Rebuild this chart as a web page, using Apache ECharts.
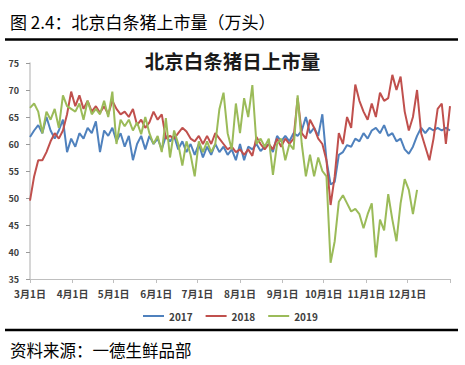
<!DOCTYPE html>
<html><head><meta charset="utf-8">
<script src="https://cdn.jsdelivr.net/npm/echarts@6/dist/echarts.min.js"></script>
<style>html,body{margin:0;padding:0;background:#fff}#c{width:465px;height:365px}</style>
</head><body><div id="c"></div>
<script>
// x positions are day offsets from 3月1日; each series is sampled every 3 days
const stepDays = 3;
const monthLabels = ['3月1日','4月1日','5月1日','6月1日','7月1日','8月1日','9月1日','10月1日','11月1日','12月1日'];
const monthStartDays = [0,31,61,92,122,153,184,214,245,275];
const endDay = 306;
const seriesNames = ['2017','2018','2019'];

const values2017 = [61.3,62.5,63.5,62,65,62.5,61,62.5,64.5,58.5,
  61,59.5,62,61,63,62,64.2,58.5,62.5,61.5,
  63,60.5,62,59.5,61.5,57,60,61.5,59,61.5,
  60,61,59,61.5,60.5,61.5,59,60.5,58.5,60,
  58,60,57.5,59.5,58,60,58.5,59.5,58,59,
  57,60,57,59.5,59,60,58.7,59.5,60,58.5,
  61.5,60.5,61.5,60.5,62,61.5,62.5,65,62,63,
  61.5,65.5,57,52.5,53,58,58.5,59.8,59.5,61,
  60.5,62,61,62.5,63,62,63.5,61.5,62,60.5,
  61,59,58.2,59.5,61.5,63,62,63,62.5,63,
  62.5,63,62.5];

const values2018 = [49.5,54,57,57,58.5,60.5,62,61,62.5,65.5,
  69.7,67,69,66.5,68,66,67,65.8,67,65.5,
  68,66.5,65.5,66,65,66.5,63.5,64.5,63,64,
  66,64.5,65.5,61,61.5,61,62,63,62.3,61,
  60.5,61.5,60,61.5,60,62,61,60,59,59.5,
  58.5,59,58,59,57.8,61.3,60,59,60,59,
  61,59.5,61,60,61,68.5,62,61,64.5,63,
  61,60,57,48.7,54,62,60,65,63,71,
  68,66,64.5,67.5,65,69.5,68,68.5,72.8,70,
  72.5,66,62.5,65,70,62,59.5,57,61,66.5,
  67.5,60,67];

const values2019 = [66.7,67.5,66,62,66,64.5,66.5,63,69,67,
  66.5,66,67.5,64.5,68,65.5,66.5,65.5,68,65,
  69.7,60,64.5,63.3,64.5,62.5,64,61.8,65,62,
  60,61.5,58.5,64.8,57.5,62.5,60,56,60.5,58,
  54,60.5,58.5,60.5,58.5,60,66.5,69.5,62,59,
  67.5,62,68.5,65,70.9,60,61,59.5,61,54.3,
  60,61,57,60,59,69,60,54,58,54,
  57.5,55,54,38,42,49.3,50.5,49,47.5,48,
  47,44.4,47,49,39,46,44,50.7,46,42,
  49,53.5,51.5,47,51.5];

const colors = ['#4F81BD','#C0504D','#9BBB59'];
const font = "'Noto Sans CJK SC', 'Noto Sans', sans-serif";

function toPoints(vals){ return vals.map((v,i)=>[i*stepDays, v]); }
const allValues = [values2017, values2018, values2019];

const chart = echarts.init(document.getElementById('c'), null, {renderer:'svg'});
chart.setOption({
  backgroundColor:'#fff',
  animation:false,
  textStyle:{fontFamily:font},
  title:[
    {text:'图 2.4：北京白条猪上市量（万头）', left:5, top:8,
     textStyle:{fontFamily:font, fontSize:17, fontWeight:'normal', color:'#000'}},
    {text:'北京白条猪日上市量', left:'center', top:46,
     textStyle:{fontFamily:font, fontSize:19.5, fontWeight:'bold', color:'#1a1a1a'}},
    {text:'资料来源：一德生鲜品部', left:5, top:337,
     textStyle:{fontFamily:font, fontSize:16.5, fontWeight:'normal', color:'#000'}}
  ],
  graphic:[
    {type:'line', shape:{x1:5,y1:39.5,x2:458,y2:39.5}, style:{stroke:'#000', lineWidth:2.5}},
    {type:'line', shape:{x1:5,y1:330,x2:458,y2:330}, style:{stroke:'#000', lineWidth:2.5}}
  ],
  legend:{
    data:seriesNames, left:138, top:306, icon:'rect', itemWidth:21, itemHeight:2,
    itemGap:13, textStyle:{fontFamily:font, fontSize:10, color:'#404040', fontWeight:'bold'}
  },
  grid:{left:30, right:15, top:63, bottom:86},
  xAxis:{
    type:'value', min:0, max:endDay,
    axisLine:{show:true, lineStyle:{color:'#bfbfbf', width:1}},
    axisTick:{show:true, inside:false, length:4, lineStyle:{color:'#bfbfbf'},
      customValues: monthStartDays.concat([endDay])},
    axisLabel:{customValues: monthStartDays, margin:9, fontSize:10, color:'#404040', fontWeight:'bold',
      formatter:(v)=>monthLabels[monthStartDays.indexOf(v)]},
    splitLine:{show:false}
  },
  yAxis:{
    type:'value', min:35, max:75, interval:5,
    axisLine:{show:true, lineStyle:{color:'#c8c8c8', width:1.5}},
    axisTick:{show:true, length:4, lineStyle:{color:'#9a9a9a'}},
    axisLabel:{margin:11, fontSize:9, color:'#404040', fontWeight:'bold'},
    splitLine:{show:false}
  },
  series: seriesNames.map((n,k)=>({
    name:n, type:'line', data:toPoints(allValues[k]), showSymbol:false, symbol:'none',
    lineStyle:{color:colors[k], width:2}, itemStyle:{color:colors[k]}
  }))
});
</script>
</body></html>
